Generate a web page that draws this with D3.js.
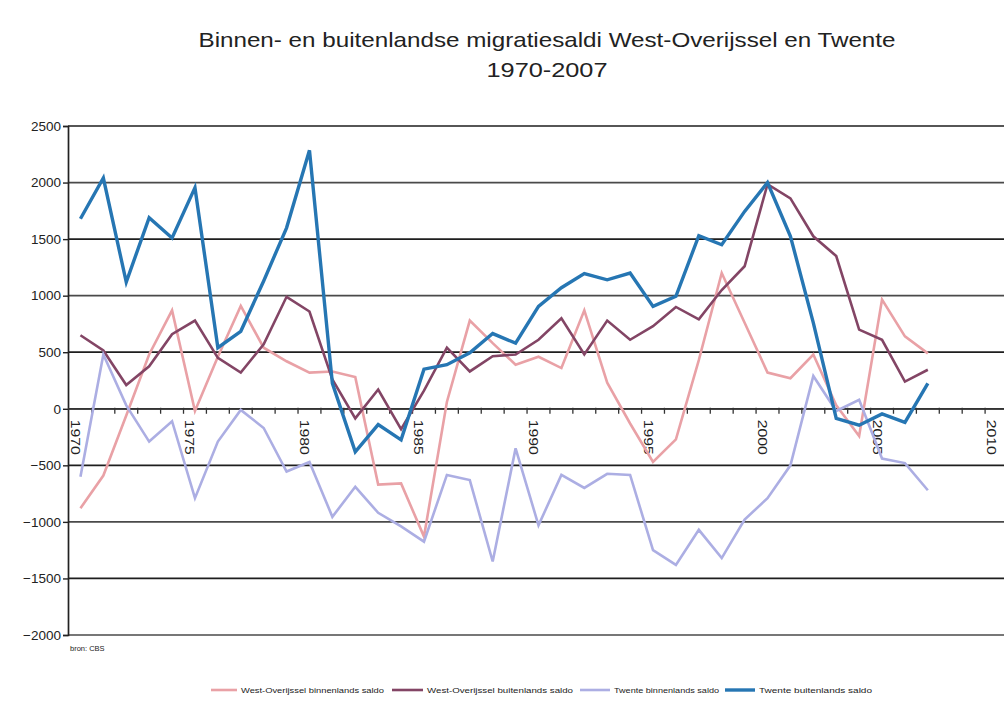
<!DOCTYPE html>
<html>
    <head>
        <meta charset="utf-8">
        <script src="https://d3js.org/d3.v7.min.js"></script>
        <style>
            body { margin: 0; background: #fff; }
            text { font-family: 'Liberation Sans', Arial, sans-serif; fill: #222; }
        </style>
    </head>
    <body>
        <script>
            // categories
            var years = d3.range(1970, 2008);
            var axisYears = d3.range(1970, 2011);
            var labelYears = [1970, 1975, 1980, 1985, 1990, 1995, 2000, 2005, 2010];
            var yTicks = [-2000, -1500, -1000, -500, 0, 500, 1000, 1500, 2000, 2500];

            // series
            var woBinnen = [-880, -590, -60, 480, 870, -20, 460, 910, 540, 420,
                            320, 330, 280, -670, -660, -1130, 60, 780, 580, 390,
                            460, 360, 870, 230, -130, -470, -270, 430, 1200, 760,
                            320, 270, 480, 30, -240, 965, 640, 490];
            var woBuiten = [650, 515, 210, 375, 660, 780, 450, 320, 570, 990,
                            860, 260, -85, 170, -180, 160, 540, 330, 465, 480,
                            610, 800, 480, 780, 610, 730, 900, 790, 1050, 1260,
                            1985, 1860, 1525, 1350, 700, 610, 240, 345];
            var twBinnen = [-600, 480, 30, -290, -110, -790, -290, -10, -170, -555,
                            -470, -955, -690, -920, -1040, -1175, -585, -630, -1350, -350,
                            -1030, -585, -700, -575, -585, -1250, -1380, -1070, -1320, -980,
                            -790, -500, 290, -20, 80, -440, -480, -720];
            var twBuiten = [1680, 2040, 1120, 1690, 1510, 1955, 540, 685, 1130, 1600,
                            2285, 225, -380, -140, -275, 350, 390, 495, 665, 580,
                            905, 1070, 1195, 1140, 1200, 905, 995, 1530, 1450, 1745,
                            2000, 1525, 760, -85, -145, -45, -120, 225];

            var seriesNames = ['West-Overijssel binnenlands saldo', 'West-Overijssel buitenlands saldo',
                               'Twente binnenlands saldo', 'Twente buitenlands saldo'];

            var series = [
                { name: seriesNames[0], values: woBinnen, color: '#e9a1a6', width: 2.6 },
                { name: seriesNames[1], values: woBuiten, color: '#834565', width: 2.6 },
                { name: seriesNames[2], values: twBinnen, color: '#acaee3', width: 2.6 },
                { name: seriesNames[3], values: twBuiten, color: '#2676b3', width: 3.4 }
            ];

            var W = 1004, H = 702;

            var svg = d3.select('body')
                        .append('svg')
                        .attr('width', W)
                        .attr('height', H);

            svg.append('rect').attr('width', W).attr('height', H).attr('fill', '#fff');

            var x = d3.scaleBand()
                      .domain(axisYears)
                      .range([69, 1008]);

            var y = d3.scaleLinear()
                      .domain([-2000, 2500])
                      .range([635, 126]);

            var cx = function(yr) { return x(yr) + x.bandwidth() / 2; };

            // title
            svg.append('text')
                .attr('x', 547).attr('y', 47)
                .attr('text-anchor', 'middle')
                .style('font-size', '21px')
                .attr('fill', '#1a1a1a')
                .attr('textLength', 697)
                .attr('lengthAdjust', 'spacingAndGlyphs')
                .text('Binnen- en buitenlandse migratiesaldi West-Overijssel en Twente');

            svg.append('text')
                .attr('x', 547).attr('y', 77)
                .attr('text-anchor', 'middle')
                .style('font-size', '21px')
                .attr('fill', '#1a1a1a')
                .attr('textLength', 121)
                .attr('lengthAdjust', 'spacingAndGlyphs')
                .text('1970-2007');

            // grid lines
            svg.append('g')
                .selectAll('line')
                .data(yTicks)
                .enter().append('line')
                    .attr('x1', 68).attr('x2', W)
                    .attr('y1', function(d) { return y(d); })
                    .attr('y2', function(d) { return y(d); })
                    .attr('stroke', function(d, i) { return i % 2 ? '#1e1e1e' : '#4a4a4a'; })
                    .attr('stroke-width', 1.7);

            // y axis
            var yAxis = svg.append('g')
                .attr('transform', 'translate(68,0)')
                .call(d3.axisLeft(y).tickValues(yTicks).tickSize(5).tickFormat(d3.format('d')));
            yAxis.select('.domain').attr('stroke', '#222').attr('stroke-width', 1.7);
            yAxis.selectAll('.tick line').attr('stroke', '#222').attr('stroke-width', 1.4);
            yAxis.selectAll('.tick text')
                .attr('x', -7)
                .style('font-size', '13.5px')
                .style('font-family', "'Liberation Sans', Arial, sans-serif")
                .attr('fill', '#222');

            // x axis at zero
            svg.append('line')
                .attr('x1', 68).attr('x2', W)
                .attr('y1', y(0)).attr('y2', y(0))
                .attr('stroke', '#333').attr('stroke-width', 1.8);

            svg.append('g')
                .selectAll('line')
                .data(axisYears.slice(1))
                .enter().append('line')
                    .attr('x1', function(d) { return x(d); })
                    .attr('x2', function(d) { return x(d); })
                    .attr('y1', y(0) - 1)
                    .attr('y2', y(0) + 5)
                    .attr('stroke', '#333')
                    .attr('stroke-width', 1.3);

            svg.append('g')
                .selectAll('text')
                .data(labelYears)
                .enter().append('text')
                    .attr('transform', function(d) {
                        return 'translate(' + (cx(d) - 5) + ',' + (y(0) + 11) + ') rotate(90)';
                    })
                    .attr('dominant-baseline', 'central')
                    .style('font-size', '13px')
                    .attr('textLength', 35)
                    .attr('lengthAdjust', 'spacingAndGlyphs')
                    .text(function(d) { return d; });

            // lines
            var line = d3.line()
                .x(function(d) { return cx(d.year); })
                .y(function(d) { return y(d.v); });

            svg.append('g')
                .selectAll('path')
                .data(series)
                .enter().append('path')
                    .attr('d', function(s) {
                        return line(years.map(function(yr, i) { return { year: yr, v: s.values[i] }; }));
                    })
                    .attr('fill', 'none')
                    .attr('stroke', function(s) { return s.color; })
                    .attr('stroke-width', function(s) { return s.width; })
                    .attr('stroke-linejoin', 'miter');

            // source
            svg.append('text')
                .attr('x', 70).attr('y', 651)
                .style('font-size', '7.5px')
                .attr('fill', '#444')
                .text('bron: CBS');

            // legend
            var legendPos = [
                { lx: 211, tx: 241, tw: 143 },
                { lx: 392, tx: 427, tw: 146 },
                { lx: 580, tx: 614, tw: 105 },
                { lx: 725, tx: 759, tw: 113 }
            ];

            var legend = svg.append('g')
                .selectAll('g')
                .data(series)
                .enter().append('g');

            legend.append('line')
                .attr('x1', function(d, i) { return legendPos[i].lx; })
                .attr('x2', function(d, i) { return legendPos[i].tx - 4; })
                .attr('y1', 690).attr('y2', 690)
                .attr('stroke', function(d) { return d.color; })
                .attr('stroke-width', function(d) { return d.width; });

            legend.append('text')
                .attr('x', function(d, i) { return legendPos[i].tx; })
                .attr('y', 693)
                .style('font-size', '8px')
                .attr('textLength', function(d, i) { return legendPos[i].tw; })
                .attr('lengthAdjust', 'spacingAndGlyphs')
                .text(function(d) { return d.name; });
        </script>
    </body>
</html>
